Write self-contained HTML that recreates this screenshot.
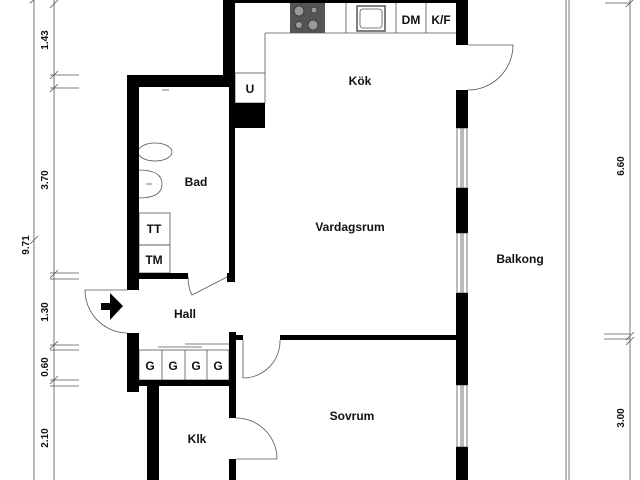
<!DOCTYPE html>
<html><head><meta charset="utf-8"><style>
html,body{margin:0;padding:0;background:#fff;}
svg{display:block}
text{font-family:"Liberation Sans",sans-serif;font-weight:bold;font-size:12px;fill:#111}
</style></head><body>
<svg width="640" height="480" viewBox="0 0 640 480" xmlns="http://www.w3.org/2000/svg">
<g stroke="#555" stroke-width="0.8" fill="none">
<line x1="34" y1="0" x2="34" y2="480"/>
<line x1="54" y1="0" x2="54" y2="480"/>
<line x1="50" y1="75" x2="79" y2="75"/><line x1="50" y1="88" x2="79" y2="88"/>
<line x1="50" y1="273" x2="79" y2="273"/><line x1="50" y1="279" x2="79" y2="279"/>
<line x1="50" y1="345" x2="79" y2="345"/><line x1="50" y1="350" x2="79" y2="350"/>
<line x1="50" y1="380" x2="79" y2="380"/><line x1="50" y1="386" x2="79" y2="386"/>
<line x1="30" y1="3" x2="38" y2="-3"/><line x1="50" y1="8" x2="58" y2="0"/>
<line x1="50" y1="79" x2="58" y2="71"/><line x1="50" y1="92" x2="58" y2="84"/>
<line x1="50" y1="278" x2="58" y2="270"/><line x1="50" y1="349" x2="58" y2="341"/><line x1="50" y1="384" x2="58" y2="376"/>
<line x1="30" y1="244" x2="38" y2="236"/>
<line x1="630" y1="0" x2="630" y2="480"/>
<line x1="605" y1="3" x2="630" y2="3"/>
<line x1="604" y1="334" x2="630" y2="334"/><line x1="604" y1="339" x2="630" y2="339"/>
<line x1="626" y1="340" x2="634" y2="332"/><line x1="626" y1="345" x2="634" y2="337"/><line x1="626" y1="7" x2="634" y2="-1"/>
<line x1="566" y1="0" x2="566" y2="480"/><line x1="569" y1="0" x2="569" y2="480"/>
<line x1="265" y1="33" x2="456" y2="33"/>
<line x1="265" y1="33" x2="265" y2="73"/>
<rect x="235" y="73" width="30" height="30"/>
<line x1="346" y1="3" x2="346" y2="33"/><line x1="396" y1="3" x2="396" y2="33"/><line x1="426" y1="3" x2="426" y2="33"/>
<rect x="357" y="6" width="28" height="25" stroke-width="1.5"/>
<rect x="360" y="9" width="22" height="19" rx="3"/>
<rect x="139" y="213" width="31" height="32"/><rect x="139" y="245" width="31" height="28"/>
<ellipse cx="155" cy="152" rx="17" ry="9"/>
<path d="M139 170 Q162 170 162 184 Q162 198 139 198"/>
<line x1="146" y1="184" x2="152" y2="184"/>
<path d="M161 86 l8 0 M162 90 l7 0"/>
<path d="M468 45 L513 45 A45 45 0 0 1 468 90"/>
<path d="M127 290 L85 290 A43 43 0 0 0 127 333"/>
<path d="M188 276 Q188 288 192 295 L227 277"/>
<path d="M243 340 L243 378 A37 37 0 0 0 280 340"/>
<path d="M236 418 A41 41 0 0 1 277 459 L236 459"/>
<rect x="139" y="350" width="90" height="30"/>
<line x1="162" y1="350" x2="162" y2="380"/><line x1="185" y1="350" x2="185" y2="380"/><line x1="207" y1="350" x2="207" y2="380"/>
<line x1="158" y1="347" x2="202" y2="347"/><line x1="185" y1="344" x2="229" y2="344"/>
<rect x="457" y="128" width="10" height="60"/><line x1="461" y1="128" x2="461" y2="188"/><line x1="463" y1="128" x2="463" y2="188"/>
<rect x="457" y="233" width="10" height="60"/><line x1="461" y1="233" x2="461" y2="293"/><line x1="463" y1="233" x2="463" y2="293"/>
<rect x="457" y="385" width="10" height="62"/><line x1="461" y1="385" x2="461" y2="447"/><line x1="463" y1="385" x2="463" y2="447"/>
</g>
<rect x="290" y="3" width="35" height="30" fill="#555"/>
<g fill="#999" stroke="#333" stroke-width="0.8"><circle cx="299" cy="11" r="5"/><circle cx="314" cy="10" r="3"/><circle cx="299" cy="25" r="3.5"/><circle cx="313" cy="25" r="5"/></g>
<g fill="#000">
<rect x="223" y="0" width="12" height="87"/>
<rect x="235" y="0" width="233" height="3"/>
<rect x="127" y="75" width="108" height="12"/>
<rect x="229" y="87" width="6" height="195"/>
<rect x="227" y="273" width="8" height="9"/>
<rect x="235" y="103" width="30" height="25"/>
<rect x="127" y="75" width="12" height="215"/>
<rect x="139" y="273" width="49" height="6"/>
<rect x="127" y="333" width="12" height="59"/>
<rect x="139" y="380" width="96" height="6"/>
<rect x="147" y="380" width="12" height="100"/>
<rect x="229" y="332" width="7" height="86"/>
<rect x="236" y="335" width="7" height="5"/>
<rect x="229" y="459" width="7" height="21"/>
<rect x="280" y="335" width="180" height="5"/>
<rect x="456" y="0" width="12" height="45"/>
<rect x="456" y="90" width="12" height="38"/>
<rect x="456" y="188" width="12" height="45"/>
<rect x="456" y="293" width="12" height="92"/>
<rect x="456" y="447" width="12" height="33"/>
<path d="M101 303 L110 303 L110 293 L123 306 L110 320 L110 310 L101 310 Z"/>
</g>
<text x="360" y="85" text-anchor="middle">Kök</text>
<text x="350" y="231" text-anchor="middle">Vardagsrum</text>
<text x="520" y="263" text-anchor="middle">Balkong</text>
<text x="352" y="420" text-anchor="middle">Sovrum</text>
<text x="196" y="186" text-anchor="middle">Bad</text>
<text x="185" y="318" text-anchor="middle">Hall</text>
<text x="197" y="443" text-anchor="middle">Klk</text>
<text x="250" y="93" text-anchor="middle">U</text>
<text x="154" y="233" text-anchor="middle">TT</text>
<text x="154" y="264" text-anchor="middle">TM</text>
<text x="411" y="24" text-anchor="middle">DM</text>
<text x="441" y="24" text-anchor="middle">K/F</text>
<g text-anchor="middle"><text x="150" y="370">G</text><text x="173" y="370">G</text><text x="196" y="370">G</text><text x="218" y="370">G</text></g>
<g>
<text transform="translate(48,40) rotate(-90)" text-anchor="middle" style="font-size:10px">1.43</text>
<text transform="translate(48,180) rotate(-90)" text-anchor="middle" style="font-size:10px">3.70</text>
<text transform="translate(29,245) rotate(-90)" text-anchor="middle" style="font-size:10px">9.71</text>
<text transform="translate(48,312) rotate(-90)" text-anchor="middle" style="font-size:10px">1.30</text>
<text transform="translate(48,367) rotate(-90)" text-anchor="middle" style="font-size:10px">0.60</text>
<text transform="translate(48,438) rotate(-90)" text-anchor="middle" style="font-size:10px">2.10</text>
<text transform="translate(624,166) rotate(-90)" text-anchor="middle" style="font-size:10px">6.60</text>
<text transform="translate(624,418) rotate(-90)" text-anchor="middle" style="font-size:10px">3.00</text>
</g>
</svg>
</body></html>
